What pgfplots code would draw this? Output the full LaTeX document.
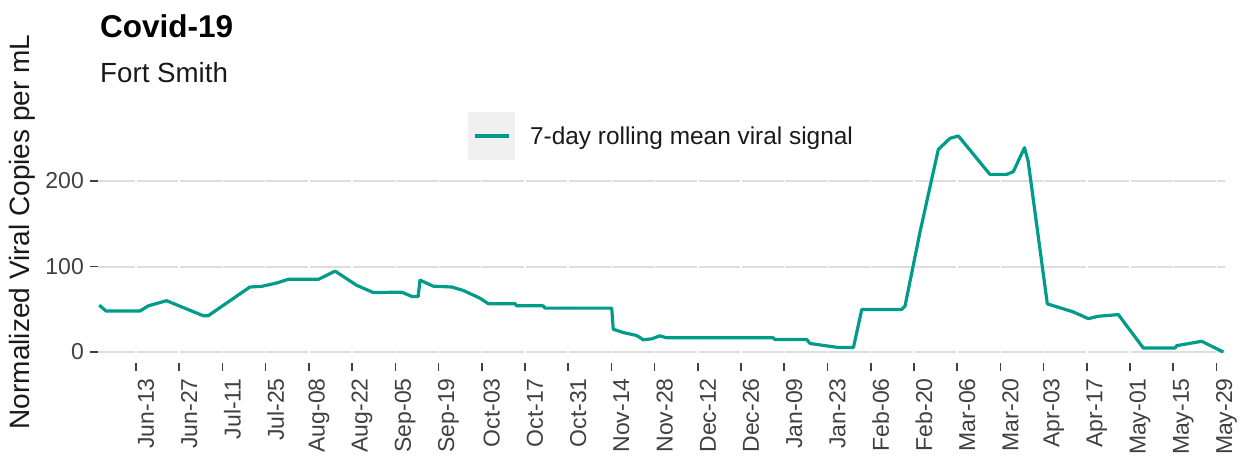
\documentclass[border=0pt]{standalone}
\usepackage{fontspec}
\setmainfont{Liberation Sans}
\usepackage{pgfplots}
\pgfplotsset{compat=1.18}
\definecolor{lineteal}{RGB}{0,155,137}
\definecolor{gridgray}{RGB}{221,221,221}
\definecolor{tickgray}{RGB}{64,64,64}
\definecolor{keygray}{RGB}{240,240,240}
\begin{document}
\begin{tikzpicture}
\useasboundingbox (0pt,0pt) rectangle (1248pt,-458pt);
\begin{axis}[
  at={(97.7pt,-363.1pt)}, anchor=south west,
  scale only axis, width=1126.8pt, height=238.5pt,
  xmin=-12.4, xmax=352.6, ymin=-13, ymax=266,
  axis x line*=bottom, axis y line*=left,
  axis line style={draw=none},
  tick align=outside,
  major tick length=8pt,
  tick style={tickgray, line width=1.6pt},
  xtick={0,14,...,350},
  xticklabels={Jun-13,Jun-27,Jul-11,Jul-25,Aug-08,Aug-22,Sep-05,Sep-19,Oct-03,Oct-17,Oct-31,Nov-14,Nov-28,Dec-12,Dec-26,Jan-09,Jan-23,Feb-06,Feb-20,Mar-06,Mar-20,Apr-03,Apr-17,May-01,May-15,May-29},
  ytick={0,100,200},
  ymajorgrids,
  grid style={gridgray, line width=2pt},
  extra x ticks={0,14,...,350},
  extra x tick labels={},
  extra x tick style={grid=major, major grid style={white, line width=1.5pt}, tick style={draw=none}},
  xticklabel style={rotate=90, anchor=east, font=\fontsize{23}{23}\selectfont, text=tickgray, inner sep=0pt, yshift=-10pt, xshift=-7pt},
  yticklabel style={anchor=east, font=\fontsize{23}{23}\selectfont, text=tickgray, inner sep=0pt, xshift=-5.7pt},
  /pgf/number format/assume math mode=true,
  ylabel={Normalized Viral Copies per mL},
  ylabel style={at={(axis description cs:-0.0672,0.55)}, anchor=center, font=\fontsize{28}{28}\selectfont, text=black!90},
  legend style={at={(axis description cs:0.3286,0.952)}, anchor=west, draw=none, fill=none, inner sep=0pt, outer sep=0pt, font=\fontsize{24.4}{28}\selectfont, text=black!90, nodes={inner sep=0pt, outer sep=0pt}},
  legend image code/.code={\fill[keygray] (0pt,-22pt) rectangle (44pt,22pt); \draw[#1] (5pt,0pt) -- (39pt,0pt); \path (59pt,0pt);},
]
\addplot[lineteal, line width=3.2pt, line join=round] coordinates {
(-11.9,54.8) (-9.7,48) (1.3,48) (4.0,54) (9.9,60) (21.8,42.4) (23.4,42.4)
(36.9,76) (40.7,76.8) (45.6,80.7) (49.3,85) (59.1,85) (64.5,94.6) (71.5,78)
(76.9,69.5) (86.1,70) (89.3,65) (91.4,65) (92,84) (96.3,77) (102.3,76) (106,72)
(111.4,63) (114.1,56.5) (122.8,56.5) (123.3,54) (131.9,54) (132.5,51.3) (154.1,51.3)
(154.6,26.6) (157.9,22.7) (162.2,19.3) (164.3,14.3) (167.1,15.4) (169.7,18.9) (171.9,16.6)
(206.4,16.6) (207,14.6) (217.3,14.6) (218.3,10) (222.6,7.7) (227.5,5.3) (232.4,5.3)
(235.1,49.8) (248,49.8) (249.1,53.5) (254,141) (259.9,237) (263.7,250) (266.4,252.7)
(276.6,207.8) (282.1,207.8) (284.2,211) (287.8,239) (289,223) (295.2,56.3) (303.6,46.9)
(308.5,39) (311.7,41.8) (318.2,43.75) (326.3,4.7) (336.6,4.7) (337.1,7.4) (345.2,12.5) (352.2,0)
};
\addlegendentry{7-day rolling mean viral signal}
\end{axis}
\node[anchor=base west, inner sep=0pt, font=\fontsize{31.5}{32}\selectfont\bfseries] at (100pt,-37pt) {Covid-19};
\node[anchor=base west, inner sep=0pt, font=\fontsize{27.7}{28}\selectfont, text=black!90] at (100pt,-82.5pt) {Fort Smith};
\end{tikzpicture}
\end{document}
